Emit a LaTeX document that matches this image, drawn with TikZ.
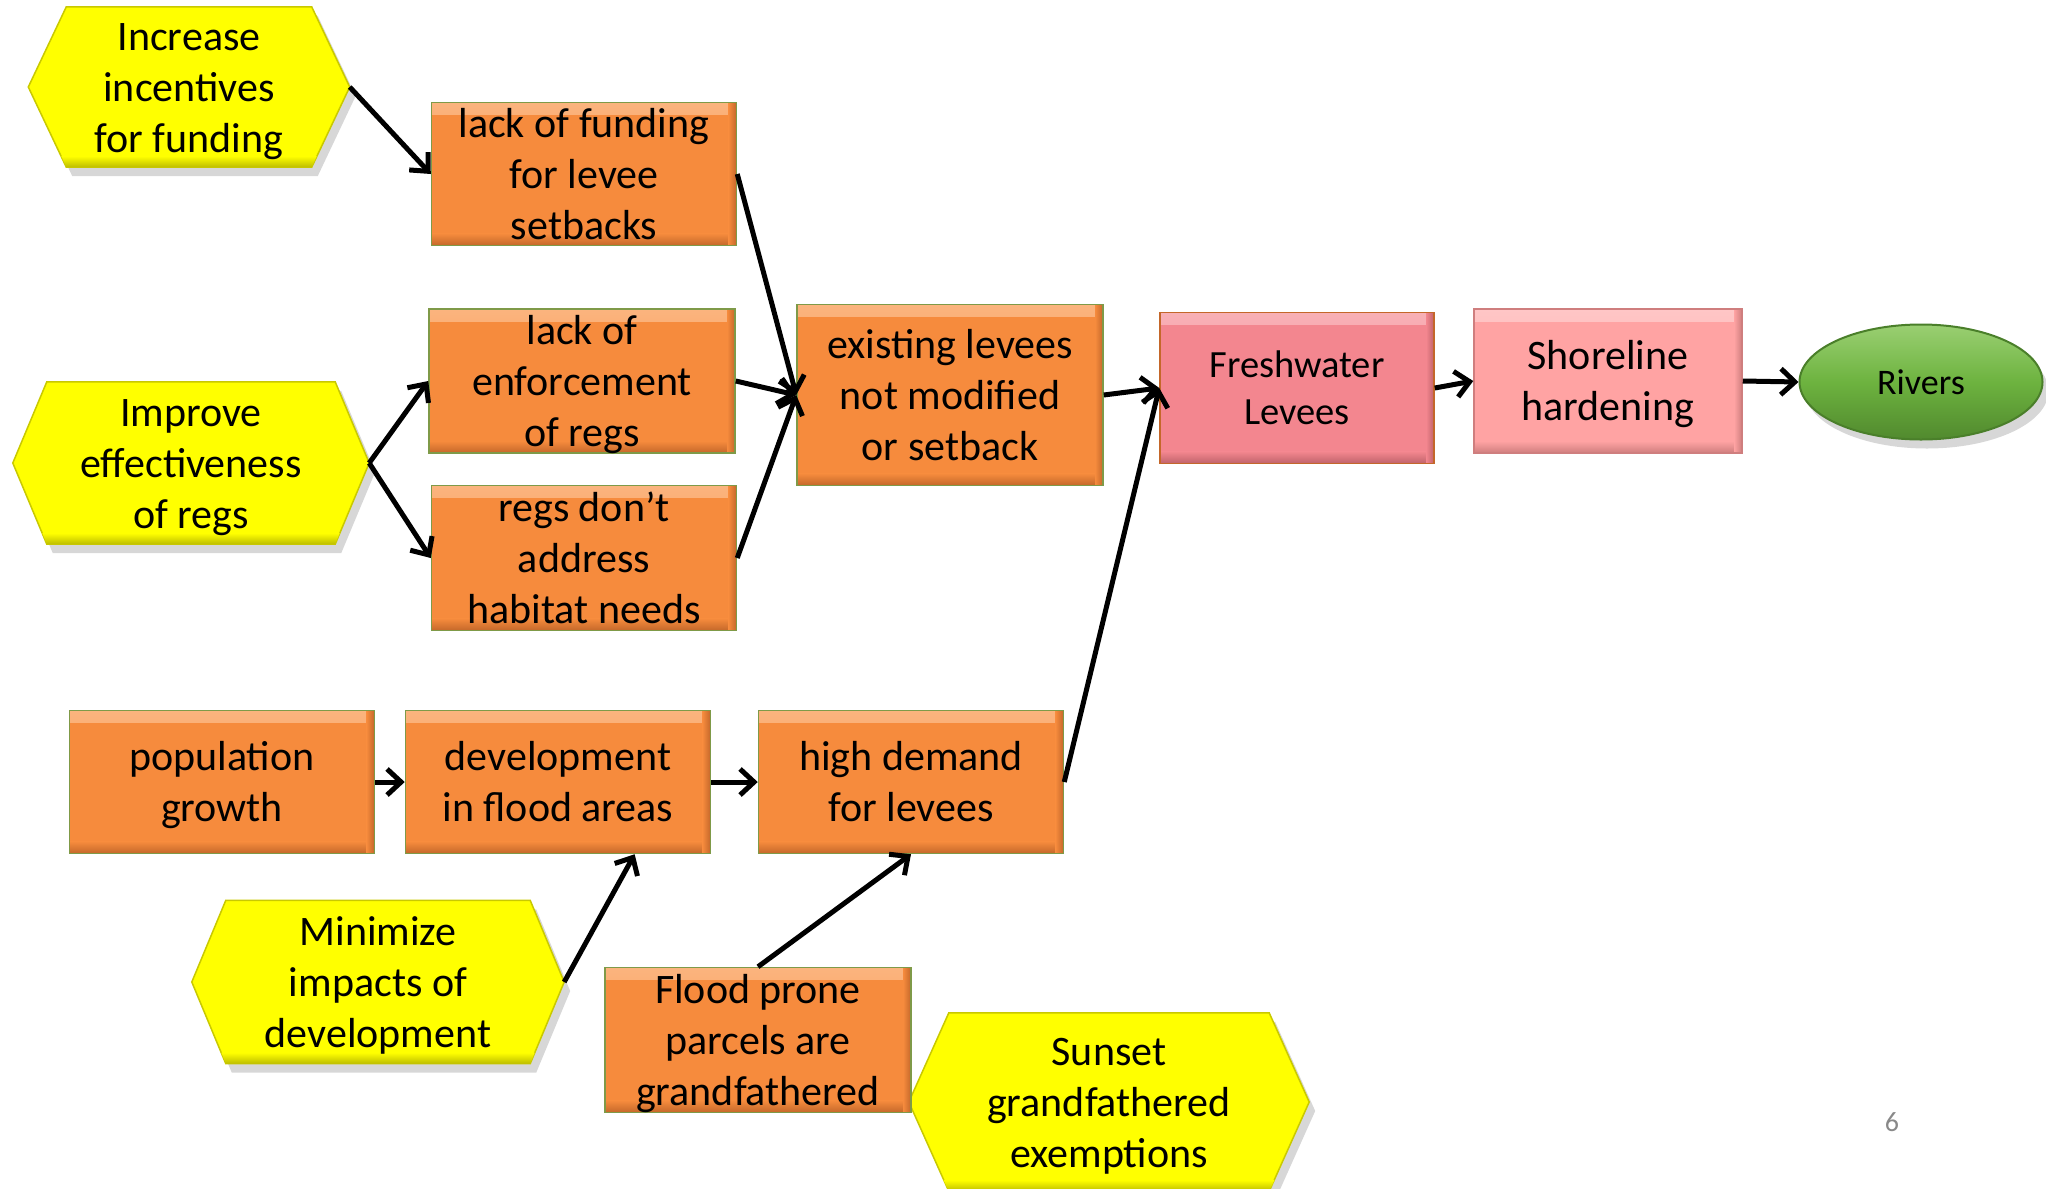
\documentclass[tikz,border=0pt]{standalone}
\usepackage{fontspec}
\setmainfont{Carlito}
\usetikzlibrary{arrows.meta,calc,backgrounds,shapes.geometric}
\definecolor{orng}{HTML}{F68B3D}
\definecolor{orngL}{HTML}{FBB47E}
\definecolor{orngD}{HTML}{C4672A}
\definecolor{frsh}{HTML}{F3868F}
\definecolor{frshL}{HTML}{F8B0B6}
\definecolor{frshD}{HTML}{C0626A}
\definecolor{shor}{HTML}{FFA3A3}
\definecolor{shorL}{HTML}{FFC6C6}
\definecolor{shorD}{HTML}{CF7E7E}
\definecolor{boxline}{HTML}{7F9A48}
\definecolor{hexyel}{HTML}{FFFF00}
\definecolor{hexline}{HTML}{C9C900}
\definecolor{hexD}{HTML}{BDBD00}
\definecolor{rivg}{HTML}{6DB33F}
\definecolor{rivL}{HTML}{9ACF72}
\definecolor{rivD}{HTML}{4A7F2A}
\definecolor{pgnum}{HTML}{898989}
\newcommand\bt[3]{\parbox[c][#2pt][c]{#1pt}{\centering\vspace*{8pt}\strut #3\strut}}
\newcommand\hexbg[2]{%
  \fill[black!35,opacity=.45] ($(#1.west)+(6,9)$) -- ($(#1.north west)+(#2+6,9)$) -- ($(#1.north east)+(-#2+6,9)$) -- ($(#1.east)+(6,9)$) -- ($(#1.south east)+(-#2+6,9)$) -- ($(#1.south west)+(#2+6,9)$) -- cycle;
  \filldraw[fill=hexyel,draw=hexline,line width=1.5pt] (#1.west) -- ($(#1.north west)+(#2,0)$) -- ($(#1.north east)+(-#2,0)$) -- (#1.east) -- ($(#1.south east)+(-#2,0)$) -- ($(#1.south west)+(#2,0)$) -- cycle;
  \shade[top color=hexyel,bottom color=hexD] ($(#1.south west)+(#2*0.87,-11)$) -- ($(#1.south east)+(-#2*0.87,-11)$) -- ($(#1.south east)+(-#2,0)$) -- ($(#1.south west)+(#2,0)$) -- cycle;}
\tikzset{
  bevel/.style n args={3}{fill=#2, path picture={
    \shade[top color=#1,bottom color=#2] (path picture bounding box.north west) rectangle ([yshift=-12pt]path picture bounding box.north east);
    \shade[top color=#2,bottom color=#3] ([yshift=12pt]path picture bounding box.south west) rectangle (path picture bounding box.south east);
    \shade[left color=#2,right color=#3] ([xshift=-8pt]path picture bounding box.south east) rectangle (path picture bounding box.north east);}},
  txt/.style={font=\fontsize{42}{51}\selectfont, text=black},
  obox/.style={rectangle, draw=boxline, line width=1.5pt, inner sep=0pt, txt, bevel={orngL}{orng}{orngD}},
  hexn/.style={rectangle, inner sep=0pt, txt},
  arr/.style={line width=5pt, -{Straight Barb[length=14pt,width=26pt,line width=5pt]}}
}
\begin{document}
\begin{tikzpicture}[x=1pt,y=-1pt]
\useasboundingbox (0,0) rectangle (2046,1189);
% hexagon nodes
\node[hexn] (hex1) at (189,87) {\bt{321}{160}{Increase\\incentives\\for funding}};
\node[hexn] (hex2) at (191,463) {\bt{356}{162}{Improve\\effectiveness\\of regs}};
\node[hexn] (mini) at (378,982) {\bt{372}{163}{Minimize\\impacts of\\development}};
\node[hexn] (sunset) at (1109,1102) {\bt{400}{178}{Sunset\\grandfathered\\exemptions}};
% orange boxes
\node[obox] (fund) at (584,174) {\bt{305}{143}{lack of funding\\for levee\\setbacks}};
\node[obox] (enf) at (582,381) {\bt{306}{144}{lack of\\enforcement\\of regs}};
\node[obox] (regs) at (584,558) {\bt{305}{145}{regs don’t\\address\\habitat needs}};
\node[obox] (exist) at (950,395) {\bt{306}{181}{existing levees\\not modified\\or setback}};
\node[obox] (pop) at (222,782) {\bt{305}{143}{population\\growth}};
\node[obox] (dev) at (558,782) {\bt{305}{143}{development\\in flood areas}};
\node[obox] (high) at (911,782) {\bt{305}{143}{high demand\\for levees}};
\node[obox] (flood) at (758,1040) {\bt{306}{145}{Flood prone\\parcels are\\grandfathered}};
% pink boxes
\node[rectangle, draw=orngD, line width=1.5pt, inner sep=0pt, font=\fontsize{38.5}{47}\selectfont, bevel={frshL}{frsh}{frshD}] (fresh) at (1297,388) {\bt{274}{151}{Freshwater\\Levees}};
\node[rectangle, draw=shorD, line width=1.5pt, inner sep=0pt, txt, bevel={shorL}{shor}{shorD}] (shore) at (1608,381) {\bt{268}{144}{Shoreline\\hardening}};
% ellipse
\fill[black!35,opacity=.45] (1927,391) ellipse [x radius=121.5, y radius=57.5];
\node[ellipse, draw=rivD, line width=2pt, inner sep=0pt, minimum width=243pt, minimum height=115pt, font=\fontsize{36}{43}\selectfont, top color=rivL, bottom color=rivD!80!rivg, middle color=rivg] (rivers) at (1921,382) {Rivers};
% page number
\node[font=\fontsize{28}{32}\selectfont, text=pgnum] (pg) at (1892,1122) {6};
% hexagon backgrounds
\begin{scope}[on background layer]
\hexbg{hex1}{38}
\hexbg{hex2}{34}
\hexbg{mini}{34}
\hexbg{sunset}{40}
\end{scope}
% connectors
\draw[arr] (hex1.east) -- (fund.west);
\draw[arr] (hex2.east) -- (enf.west);
\draw[arr] (hex2.east) -- (regs.west);
\draw[arr] (fund.east) -- (exist.west);
\draw[arr] (enf.east) -- (exist.west);
\draw[arr] (regs.east) -- (exist.west);
\draw[arr] (exist.east) -- (fresh.west);
\draw[arr] (fresh.east) -- (shore.west);
\draw[arr] (shore.east) -- (rivers.west);
\draw[arr] (pop.east) -- (dev.west);
\draw[arr] (dev.east) -- (high.west);
\draw[arr] (high.east) -- (fresh.west);
\draw[arr] (mini.east) -- ($(dev.south)!0.5!(dev.south east)$);
\draw[arr] (flood.north) -- (high.south);
\end{tikzpicture}
\end{document}
